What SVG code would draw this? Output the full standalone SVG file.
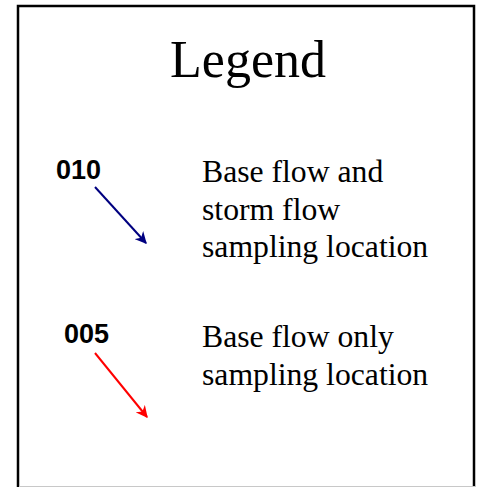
<svg xmlns="http://www.w3.org/2000/svg" width="479" height="487" viewBox="0 0 479 487">
<style>
.serif{font-family:"Liberation Serif","Times New Roman",serif;fill:#000}
.lbl{font-family:"Liberation Sans",Arial,sans-serif;font-weight:bold;font-size:27px;fill:#000}
.txt{font-size:31.7px}
</style>
<defs>
<marker id="ahBlue" viewBox="0 0 10 10" refX="9" refY="5" markerWidth="6" markerHeight="6" orient="auto" markerUnits="strokeWidth"><path d="M0,0 L10,5 L0,10 L3,5 z" fill="#000080"/></marker>
<marker id="ahRed" viewBox="0 0 10 10" refX="9" refY="5" markerWidth="6" markerHeight="6" orient="auto" markerUnits="strokeWidth"><path d="M0,0 L10,5 L0,10 L3,5 z" fill="#ff0000"/></marker>
</defs>
<rect width="479" height="487" fill="#fff"/>
<g id="frame">
<rect x="18" y="6" width="456" height="500" fill="none" stroke="#000" stroke-width="2.5"/>
<line x1="19" y1="486.5" x2="476" y2="486.5" stroke="#c8c8c8" stroke-width="1"/>
</g>
<g id="title"><text class="serif" x="248" y="77" font-size="52" text-anchor="middle">Legend</text></g>
<g id="item1">
<text class="lbl" x="56" y="179">010</text>
<text class="serif txt" x="202" y="182">Base flow and</text>
<text class="serif txt" x="202" y="220">storm flow</text>
<text class="serif txt" x="202" y="257">sampling location</text>
</g>
<g id="item2">
<text class="lbl" x="64" y="343">005</text>
<text class="serif txt" x="202" y="347">Base flow only</text>
<text class="serif txt" x="202" y="385">sampling location</text>
</g>
<g id="connectors">
<line x1="95" y1="187" x2="146" y2="243" stroke="#000080" stroke-width="2" marker-end="url(#ahBlue)"/>
<line x1="95" y1="353" x2="147" y2="417" stroke="#ff0000" stroke-width="2" marker-end="url(#ahRed)"/>
</g>
</svg>
